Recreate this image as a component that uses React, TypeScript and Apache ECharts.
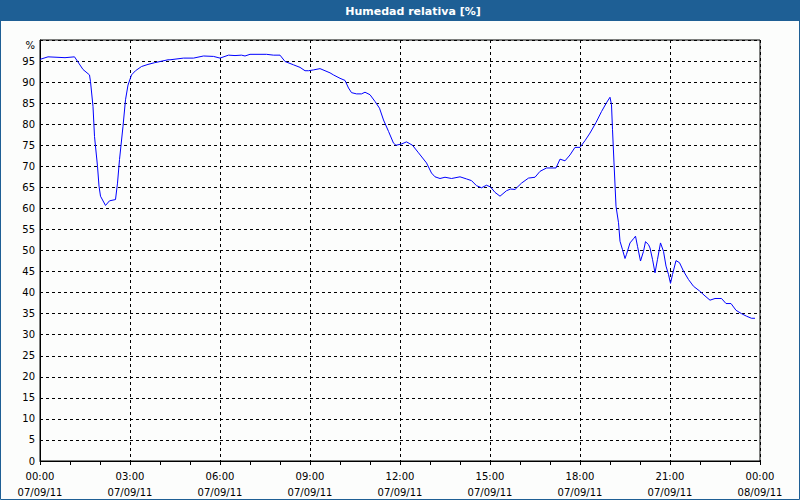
import React, { useEffect, useRef } from "react";
import * as echarts from "echarts";

const TITLE = "Humedad relativa [%]";
const DATE_LABELS = ["07/09/11", "08/09/11"];
// minutes since 00:00 07/09/11
const minutes = [
  0, 16, 50, 69, 86, 99, 101, 106, 109, 115, 118, 121, 131, 139, 151, 155, 159, 166, 171, 176,
  183, 191, 203, 216, 229, 256, 260, 287, 307, 327, 347, 360, 377, 390, 403, 410, 420, 453, 467, 480,
  490, 507, 520, 530, 537, 547, 560, 570, 580, 587, 600, 610, 617, 623, 633, 643, 650, 660, 670, 679,
  687, 697, 707, 712, 723, 733, 745, 757, 773, 783, 790, 800, 810, 823, 840, 853, 863, 873, 883, 893,
  901, 910, 920, 933, 941, 950, 963, 977, 990, 1000, 1013, 1032, 1040, 1050, 1060, 1070, 1080, 1090, 1100, 1112,
  1123, 1133, 1140, 1143, 1145, 1148, 1152, 1157, 1160, 1165, 1170, 1173, 1180, 1187, 1191, 1195, 1201, 1207, 1211, 1217,
  1220, 1225, 1230, 1235, 1241, 1247, 1252, 1257, 1261, 1265, 1272, 1279, 1287, 1297, 1307, 1319, 1330, 1340, 1350, 1363,
  1372, 1382, 1392, 1403, 1413, 1423, 1430,
];
const humidity = [
  95.4, 96.0, 95.8, 96.0, 93.0, 91.7, 90.1, 84.2, 77.1, 70.0, 65.3, 62.9, 60.7, 61.8, 62.1, 66.0, 71.6, 79.5, 85.8, 89.3,
  91.7, 92.7, 93.7, 94.2, 94.6, 95.3, 95.3, 95.7, 95.7, 96.2, 96.1, 95.7, 96.4, 96.3, 96.4, 96.2, 96.6, 96.6, 96.4, 96.4,
  94.9, 94.1, 93.5, 92.7, 92.7, 92.9, 93.2, 92.7, 92.2, 91.7, 90.9, 90.4, 88.6, 87.5, 87.2, 87.2, 87.6, 87.0, 85.4, 83.8,
  81.0, 78.3, 75.5, 75.0, 75.3, 75.8, 75.0, 73.2, 70.8, 68.4, 67.5, 67.1, 67.4, 67.1, 67.5, 67.0, 66.6, 65.4, 64.9, 65.5,
  65.1, 63.8, 62.9, 64.2, 64.6, 64.5, 66.0, 67.2, 67.4, 68.8, 69.6, 69.6, 71.7, 71.3, 72.7, 74.5, 74.5, 76.1, 77.9, 80.4,
  83.0, 85.1, 86.4, 84.6, 78.7, 70.8, 60.5, 56.6, 52.2, 50.2, 48.1, 49.1, 51.8, 52.8, 53.4, 51.0, 47.5, 49.8, 52.1, 51.4,
  50.6, 47.9, 44.7, 47.9, 51.8, 49.8, 46.3, 44.3, 42.2, 44.3, 47.6, 47.1, 45.1, 43.1, 41.5, 40.4, 39.2, 38.2, 38.6, 38.6,
  37.4, 37.4, 35.8, 35.0, 34.4, 33.9, 33.9,
];

const FONT = "DejaVu Sans";
const BLUE_BAR = "#1e5f95";

function pad(n: number) {
  return n < 10 ? "0" + n : "" + n;
}

export default function App() {
  const ref = useRef<HTMLDivElement>(null);
  useEffect(() => {
    if (!ref.current) return;
    const chart = echarts.init(ref.current, null, { renderer: "svg" });
    const data = minutes.map((m, i) => [m, humidity[i]]);
    chart.setOption({
      animation: false,
      backgroundColor: "#fcfdfc",
      graphic: [
        {
          type: "rect",
          shape: { x: 0, y: 0, width: 800, height: 21 },
          style: { fill: BLUE_BAR },
          z: 10,
        },
        {
          type: "rect",
          shape: { x: 0.5, y: 0.5, width: 799, height: 499 },
          style: { fill: "none", stroke: BLUE_BAR, lineWidth: 1 },
          z: 10,
        },
        {
          type: "text",
          x: 413,
          y: 11,
          style: {
            text: TITLE,
            fill: "#ffffff",
            font: "bold 11px " + FONT,
            textAlign: "center",
            textVerticalAlign: "middle",
          },
          z: 11,
        },
      ],
      grid: {
        left: 40,
        right: 40,
        top: 40,
        bottom: 38,
        show: true,
        borderColor: "#000",
        borderWidth: 1,
        backgroundColor: "transparent",
      },
      xAxis: {
        type: "value",
        min: 0,
        max: 1440,
        interval: 180,
        axisLine: { lineStyle: { color: "#000", width: 1 } },
        axisTick: { show: true, length: 4, lineStyle: { color: "#000" } },
        minorTick: { show: true, splitNumber: 3, length: 4, lineStyle: { color: "#000" } },
        splitLine: { show: true, lineStyle: { color: "#000", type: [3, 3], width: 1 } },
        axisLabel: {
          color: "#000",
          fontFamily: FONT,
          fontSize: 10,
          margin: 7,
          lineHeight: 16,
          showMinLabel: true,
          showMaxLabel: true,
          formatter: (v: number) => {
            const day = Math.floor(v / 1440);
            const rem = v - day * 1440;
            return pad(Math.floor(rem / 60)) + ":" + pad(rem % 60) + "\n" + DATE_LABELS[day];
          },
        },
      },
      yAxis: {
        type: "value",
        min: 0,
        max: 100,
        interval: 5,
        axisLine: { show: true, lineStyle: { color: "#000", width: 1 } },
        axisTick: { show: false },
        splitLine: { show: true, lineStyle: { color: "#000", type: [3, 3], width: 1 } },
        axisLabel: {
          color: "#000",
          fontFamily: FONT,
          fontSize: 10,
          margin: 5,
          formatter: (v: number) => (v === 100 ? "{p|%}" : String(v)),
          rich: { p: { fontFamily: FONT, fontSize: 10, color: "#000", padding: [10, 0, 0, 0] } },
        },
      },
      series: [
        {
          type: "line",
          data,
          showSymbol: false,
          symbol: "none",
          lineStyle: { color: "#0000ff", width: 1 },
          itemStyle: { color: "#0000ff" },
        },
      ],
    });
    return () => chart.dispose();
  }, []);
  return (
    <div
      ref={ref}
      style={{ position: "fixed", left: 0, top: 0, width: 800, height: 500 }}
    />
  );
}
